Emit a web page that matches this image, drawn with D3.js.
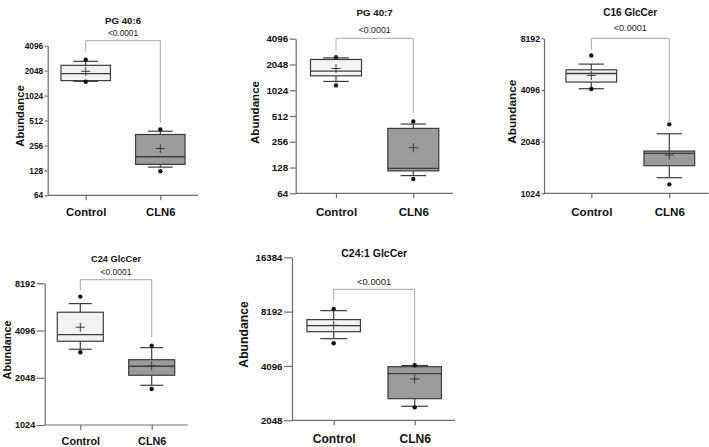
<!DOCTYPE html>
<html>
<head>
<meta charset="utf-8">
<script src="https://cdn.jsdelivr.net/npm/d3@7"></script>
<style>
  html, body { margin: 0; padding: 0; background: #fff; }
  svg { display: block; font-family: "Liberation Sans", Arial, sans-serif; }
</style>
</head>
<body>
<svg id="chart" width="709" height="447"></svg>
<script>
// ---------------- DATA ----------------
const panelTitles = ["PG 40:6", "PG 40:7", "C16 GlcCer", "C24 GlcCer", "C24:1 GlcCer"];
const groups = ["Control", "CLN6"];
const pValues = ["<0.0001", "<0.0001", "<0.0001", "<0.0001", "<0.0001"];
const yAxisTitle = "Abundance";
const yTickValues = [
  [64, 128, 256, 512, 1024, 2048, 4096],
  [64, 128, 256, 512, 1024, 2048, 4096],
  [1024, 2048, 4096, 8192],
  [1024, 2048, 4096, 8192],
  [2048, 4096, 8192, 16384]
];
// stat order: min dot, lower whisker, Q1, median, Q3, upper whisker, max dot, mean
const statKeys = ["min", "wLow", "q1", "median", "q3", "wHigh", "max", "mean"];
const controlStats = [
  [1505, 1521, 1552, 1884, 2373, 2650, 2778, 2010],
  [1166, 1298, 1508, 1709, 2343, 2446, 2490, 1837],
  [4150, 4166, 4554, 5110, 5370, 5795, 6510, 4980],
  [2977, 3112, 3500, 3855, 5360, 6080, 6740, 4300],
  [5475, 5805, 6346, 6851, 7400, 8296, 8480, 6880]
];
const cln6Stats = [
  [125, 140, 151, 187, 347, 380, 399, 235],
  [94, 103, 117, 125, 367, 412, 443, 218],
  [1155, 1262, 1483, 1751, 1805, 2277, 2583, 1711],
  [1737, 1834, 2125, 2425, 2670, 3187, 3280, 2440],
  [2416, 2449, 2699, 3713, 4059, 4120, 4130, 3470]
];

// ---------------- LAYOUT ----------------
const layout = [
  {ax: 47.7, top: 45.7, bot: 195.3, xEnd: 198, c: [85.7, 160.3], bw: 49.5, tY: 21, tS: 9.7, pY: 33, pS: 8.3, brTop: 40.7, brL: 51.7, brR: 123, labX: 20, labY: 116, labS: 11.3, tickS: 8.3, tickLen: 3, xlY: 216.5, xlS: 11.3},
  {ax: 295.7, top: 38.7, bot: 193.3, xEnd: 452.7, c: [336, 413.3], bw: 51, tY: 13, tS: 9.7, pY: 30, pS: 8.8, brTop: 38.3, brL: 50, brR: 113, labX: 255, labY: 112.5, labS: 11.6, tickS: 9.8, tickLen: 6, xlY: 216, xlS: 11.6},
  {ax: 544, top: 38.3, bot: 193.3, xEnd: 708.5, c: [591.3, 669.3], bw: 50.7, tY: 12.3, tS: 10, pY: 27.7, pS: 9.1, brTop: 38.3, brL: 50, brR: 121.7, labX: 511.7, labY: 111.7, labS: 11.8, tickS: 8.7, tickLen: 2.5, xlY: 216, xlS: 11.6},
  {ax: 44.7, top: 283.3, bot: 425, xEnd: 187.7, c: [80.3, 151.7], bw: 46, tY: 258.3, tS: 9.3, pY: 272, pS: 8.5, brTop: 279.7, brL: 290, brR: 337.3, labX: 7.5, labY: 350, labS: 10.8, tickS: 9.1, tickLen: 8, xlY: 445, xlS: 10.8},
  {ax: 292, top: 257.3, bot: 420.3, xEnd: 455, c: [333.7, 414.7], bw: 53.5, tY: 253.3, tS: 10.5, pY: 281.3, pS: 9.4, brTop: 289.3, brL: 300, brR: 363.3, labX: 243.3, labY: 334.5, labS: 12.2, tickS: 9.7, tickLen: 8, xlY: 443.3, xlS: 12.1}
];

const boxFill = ["#f2f2f2", "#9b9b9b"];
const boxStroke = "#3c3c3c";
const axisColor = "#6e6e6e";

const svg = d3.select("#chart");

panelTitles.forEach((title, i) => {
  const L = layout[i];
  const ticks = yTickValues[i];
  const y = d3.scaleLog().base(2)
    .domain([ticks[0], ticks[ticks.length - 1]])
    .range([L.bot, L.top]);
  const x = d3.scalePoint().domain(groups).range(L.c);
  const g = svg.append("g");

  // Y axis
  const yAxis = d3.axisLeft(y).tickValues(ticks).tickFormat(d3.format("d"))
    .tickSize(L.tickLen).tickSizeOuter(0).tickPadding(1.5);
  const yg = g.append("g").attr("transform", `translate(${L.ax},0)`).call(yAxis);
  yg.selectAll("path,line").attr("stroke", axisColor).attr("stroke-width", 1.2);
  yg.selectAll("text").attr("font-size", L.tickS).attr("font-weight", "bold")
    .attr("fill", "#111").attr("font-family", "Liberation Sans, Arial, sans-serif");

  // X axis
  const xAxis = d3.axisBottom(x).tickSize(5).tickSizeOuter(0).tickPadding(0);
  const xg = g.append("g").attr("transform", `translate(0,${L.bot})`).call(xAxis);
  xg.select(".domain").remove();
  xg.append("line").attr("x1", L.ax).attr("x2", L.xEnd).attr("y1", 0).attr("y2", 0)
    .attr("stroke", axisColor).attr("stroke-width", 1.2);
  xg.selectAll(".tick line").attr("stroke", axisColor).attr("stroke-width", 1.2);
  xg.selectAll(".tick text").attr("font-size", L.xlS).attr("font-weight", "bold")
    .attr("fill", "#111").attr("dy", null).attr("y", L.xlY - L.bot)
    .attr("font-family", "Liberation Sans, Arial, sans-serif");

  // Y axis title
  g.append("text").attr("transform", `translate(${L.labX + L.labS * 0.36},${L.labY}) rotate(-90)`)
    .attr("text-anchor", "middle").attr("font-size", L.labS).attr("font-weight", "bold")
    .attr("fill", "#111").text(yAxisTitle);

  // Title and p-value
  const cx = (L.c[0] + L.c[1]) / 2;
  g.append("text").attr("x", cx).attr("y", L.tY + L.tS * 0.36).attr("text-anchor", "middle")
    .attr("font-size", L.tS).attr("font-weight", "bold").attr("fill", "#111").text(title);
  g.append("text").attr("x", cx).attr("y", L.pY + L.pS * 0.36).attr("text-anchor", "middle")
    .attr("font-size", L.pS).attr("fill", "#222").text(pValues[i]);

  // Significance bracket
  g.append("path")
    .attr("d", `M${x(groups[0])},${L.brL}V${L.brTop}H${x(groups[1])}V${L.brR}`)
    .attr("fill", "none").attr("stroke", "#a8a8a8").attr("stroke-width", 1);

  // Boxes
  [controlStats[i], cln6Stats[i]].forEach((arr, gi) => {
    const s = {};
    statKeys.forEach((k, j) => s[k] = arr[j]);
    const c = x(groups[gi]);
    const hw = L.bw / 2, cap = L.bw / 4;
    const bg = g.append("g");
    bg.append("line").attr("x1", c).attr("x2", c).attr("y1", y(s.q3)).attr("y2", y(s.wHigh))
      .attr("stroke", boxStroke).attr("stroke-width", 1.2);
    bg.append("line").attr("x1", c).attr("x2", c).attr("y1", y(s.q1)).attr("y2", y(s.wLow))
      .attr("stroke", boxStroke).attr("stroke-width", 1.2);
    [s.wHigh, s.wLow].forEach(v => {
      bg.append("line").attr("x1", c - cap).attr("x2", c + cap).attr("y1", y(v)).attr("y2", y(v))
        .attr("stroke", boxStroke).attr("stroke-width", 1.2);
    });
    bg.append("rect").attr("x", c - hw).attr("width", L.bw)
      .attr("y", y(s.q3)).attr("height", y(s.q1) - y(s.q3))
      .attr("fill", boxFill[gi]).attr("stroke", boxStroke).attr("stroke-width", 1.2);
    bg.append("line").attr("x1", c - hw).attr("x2", c + hw).attr("y1", y(s.median)).attr("y2", y(s.median))
      .attr("stroke", boxStroke).attr("stroke-width", 1.3);
    const m = y(s.mean), ps = 4.5;
    bg.append("path").attr("d", `M${c - ps},${m}H${c + ps}M${c},${m - ps}V${m + ps}`)
      .attr("stroke", boxStroke).attr("stroke-width", 1);
    [s.min, s.max].forEach(v => {
      bg.append("circle").attr("cx", c).attr("cy", y(v)).attr("r", 2.2).attr("fill", "#111");
    });
  });
});
</script>
</body>
</html>
